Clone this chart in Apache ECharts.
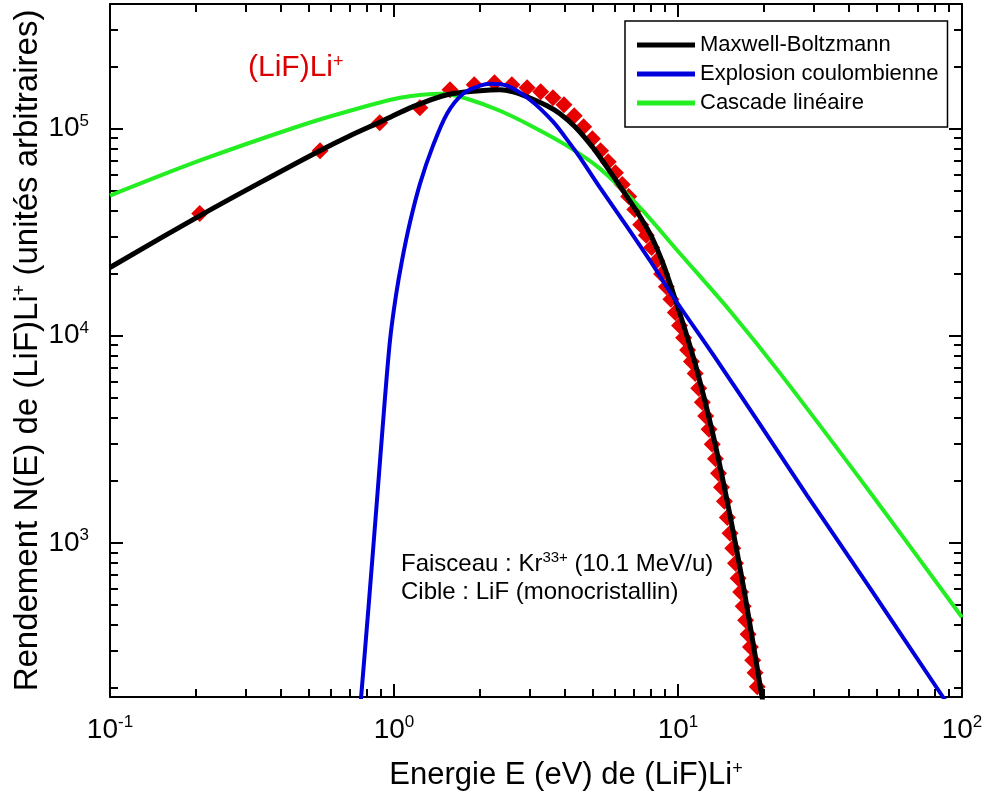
<!DOCTYPE html>
<html><head><meta charset="utf-8">
<script src="https://cdn.jsdelivr.net/npm/echarts@6/dist/echarts.min.js"></script>
<style>html,body{margin:0;padding:0;background:#fff}#c{width:984px;height:799px}</style>
</head><body><div id="c"></div>
<script>
// Experimental points (LiF)Li+
const expE = [0.207,0.549,0.891,1.233,1.575,1.917,2.259,2.601,2.943,3.285,3.627,3.969,4.311,4.653,4.995,5.337,5.679,6.021,6.363,6.705,7.047,7.389,7.731,8.073,8.415,8.757,9.099,9.441,9.783,10.125,10.467,10.809,11.151,11.493,11.835,12.177,12.519,12.861,13.203,13.545,13.887,14.229,14.571,14.913,15.255,15.597,15.939,16.281,16.623,16.965,17.307,17.649,17.991,18.333,18.675,19.017];
const expN = [38900,78300,106900,126200,154200,163000,166700,163000,157700,150800,141100,130600,115500,102200,89500,78300,69300,61300,53700,47000,40700,34400,30600,26700,23000,19850,17230,15000,12930,11210,9770,8530,7510,6565,5570,4768,4099,3539,2989,2545,2166,1855,1588,1323,1113,942,797,675,578,494,423,362,314,271,236,202];
// Maxwell-Boltzmann
const mbE = [0.1,0.2075,0.3375,0.548,0.700,0.915,1.166,1.537,2.008,2.362,2.624,2.940,3.457,3.841,4.338,5.020,5.764,6.612,7.348,8.098,8.855,9.603,10.58,11.67,13.18,14.88,17.21,19.76,20.41];
const mbN = [21360,38050,54890,78300,92520,109300,127700,145900,152500,154200,150800,142700,129100,118200,102200,80960,62030,46990,37630,29800,22330,16180,10720,6802,3492,1605,559,180,139];
// Explosion coulombienne
const ceE = [0.753,0.766,0.817,0.871,0.922,0.968,1.016,1.067,1.138,1.235,1.372,1.537,1.750,2.01,2.18,2.50,3.01,3.63,4.166,4.52,5.313,6.612,7.967,9.603,13.28,19.44,28.46,47.44,85.7,90.7];
const ceN = [139,180,528,1603,4362,9490,15650,23080,35200,54290,82790,118200,147500,161200,164900,161200,138000,108100,84670,72460,51930,33680,23080,15470,8124,3733,1696,604,180,161];
// Cascade linéaire
const clE = [0.1,0.2075,0.467,0.700,1.050,1.488,1.807,2.36,3.08,4.06,5.31,7.348,10.16,15.2,22.9,48.6,100];
const clN = [47500,70200,103300,122000,141000,147600,139500,122000,102200,82790,64120,41590,24950,13240,6578,1678,437];

const seriesNames = ['Maxwell-Boltzmann','Explosion coulombienne','Cascade linéaire'];
const xMajor = [0.1,1,10,100];
const xMinor = [0.2,0.3,0.4,0.5,0.6,0.7,0.8,0.9,2,3,4,5,6,7,8,9,20,30,40,50,60,70,80,90];
const yMajor = [1000,10000,100000];
const yMinor = [200,300,400,500,600,700,800,900,2000,3000,4000,5000,6000,7000,8000,9000,20000,30000,40000,50000,60000,70000,80000,90000,200000,300000];
const xMin = 0.1, xMax = 100, yMin = 180, yMax = 400000;

const FONT = '"Liberation Sans", Arial, sans-serif';
const pair = (a,b)=>a.map((v,i)=>[v,b[i]]);
const supFmt = v => '{b|10}{s|' + Math.round(Math.log10(v)) + '}';
const labRich = {
  b:{fontSize:28, fontFamily:FONT, color:'#000', lineHeight:32},
  s:{fontSize:17, fontFamily:FONT, color:'#000', lineHeight:17, verticalAlign:'top'}
};
const nameRich = {
  s:{fontSize:18, fontFamily:FONT, color:'#000', lineHeight:14, verticalAlign:'top'}
};
const grid = {left:110, top:4, right:22, bottom:102, outerBoundsMode:'none', containLabel:false};
const lineSt = {color:'#000', width:2};

function xAx(gi, pos, major, show){
  return {type:'log', logBase:10, gridIndex:gi, position:pos, min:xMin, max:xMax,
    axisLine:{show:show, onZero:false, lineStyle:lineSt},
    axisTick:{show:true, inside:true, length: major?13:8, lineStyle:lineSt, customValues: major?xMajor:xMinor},
    axisLabel:{show:false}, splitLine:{show:false}, minorTick:{show:false}};
}
function yAx(gi, pos, major, show){
  return {type:'log', logBase:10, gridIndex:gi, position:pos, min:yMin, max:yMax,
    axisLine:{show:show, onZero:false, lineStyle:lineSt},
    axisTick:{show:true, inside:true, length: major?13:8, lineStyle:lineSt, customValues: major?yMajor:yMinor},
    axisLabel:{show:false}, splitLine:{show:false}, minorTick:{show:false}};
}
const xb = xAx(0,'bottom',true,true);
xb.axisLabel = {show:true, customValues:xMajor, formatter:supFmt, rich:labRich, margin:17};
xb.name = 'Energie E (eV) de (LiF)Li{s|+}';
xb.nameLocation = 'middle';
xb.nameGap = 63;
xb.nameMoveOverlap = false;
xb.nameTextStyle = {fontSize:31, fontFamily:FONT, color:'#000', padding:[0,0,0,60], rich:nameRich};
const yl = yAx(0,'left',true,true);
yl.axisLabel = {show:true, customValues:yMajor, formatter:supFmt, rich:labRich, margin:21};
yl.name = 'Rendement N(E) de (LiF)Li{s|+} (unités arbitraires)';
yl.nameLocation = 'middle';
yl.nameGap = 66;
yl.nameMoveOverlap = false;
yl.nameTextStyle = {fontSize:33, fontFamily:FONT, color:'#000', rich:nameRich};

const lineCommon = {showSymbol:false, symbol:'none', smooth:0.3, xAxisIndex:0, yAxisIndex:0};
const option = {
  backgroundColor:'#fff',
  animation:false,
  grid:[Object.assign({}, grid), Object.assign({}, grid)],
  xAxis:[xb, xAx(0,'top',true,true), xAx(1,'bottom',false,false), xAx(1,'top',false,false)],
  yAxis:[yl, yAx(0,'right',true,true), yAx(1,'left',false,false), yAx(1,'right',false,false)],
  legend:{data:seriesNames, orient:'vertical', left:625, top:21, padding:[13,9,13,12],
    itemGap:7, itemWidth:58, itemHeight:5, icon:'rect', borderColor:'#000', borderWidth:1.5,
    backgroundColor:'#fff', textStyle:{fontSize:22, fontFamily:FONT, color:'#000'}},
  graphic:[
    {type:'text', left:248, top:53, style:{text:'(LiF)Li{s|+}', fill:'#dd0000', fontSize:30, fontFamily:FONT,
      rich:{s:{fontSize:18, fill:'#dd0000', fontFamily:FONT, verticalAlign:'top', lineHeight:14}}}},
    {type:'text', left:401, top:550, style:{text:'Faisceau : Kr{s|33+} (10.1 MeV/u)\nCible : LiF (monocristallin)',
      fill:'#000', fontSize:24, lineHeight:28, fontFamily:FONT,
      rich:{s:{fontSize:15, fill:'#000', fontFamily:FONT, verticalAlign:'top', lineHeight:15}}}}
  ],
  series:[
    {type:'scatter', name:'(LiF)Li+', data:pair(expE,expN), symbol:'diamond', symbolSize:17,
      itemStyle:{color:'#e60000', opacity:1}, xAxisIndex:0, yAxisIndex:0, z:2},
    Object.assign({type:'line', name:seriesNames[2], data:pair(clE,clN),
      lineStyle:{color:'#22ee22', width:4}, itemStyle:{color:'#22ee22'}, z:3}, lineCommon),
    Object.assign({type:'line', name:seriesNames[0], data:pair(mbE,mbN),
      lineStyle:{color:'#000', width:5}, itemStyle:{color:'#000'}, z:4}, lineCommon),
    Object.assign({type:'line', name:seriesNames[1], data:pair(ceE,ceN),
      lineStyle:{color:'#0000dd', width:4}, itemStyle:{color:'#0000dd'}, z:5}, lineCommon)
  ]
};
const chart = echarts.init(document.getElementById('c'), null, {renderer:'canvas'});
chart.setOption(option);
</script></body></html>
